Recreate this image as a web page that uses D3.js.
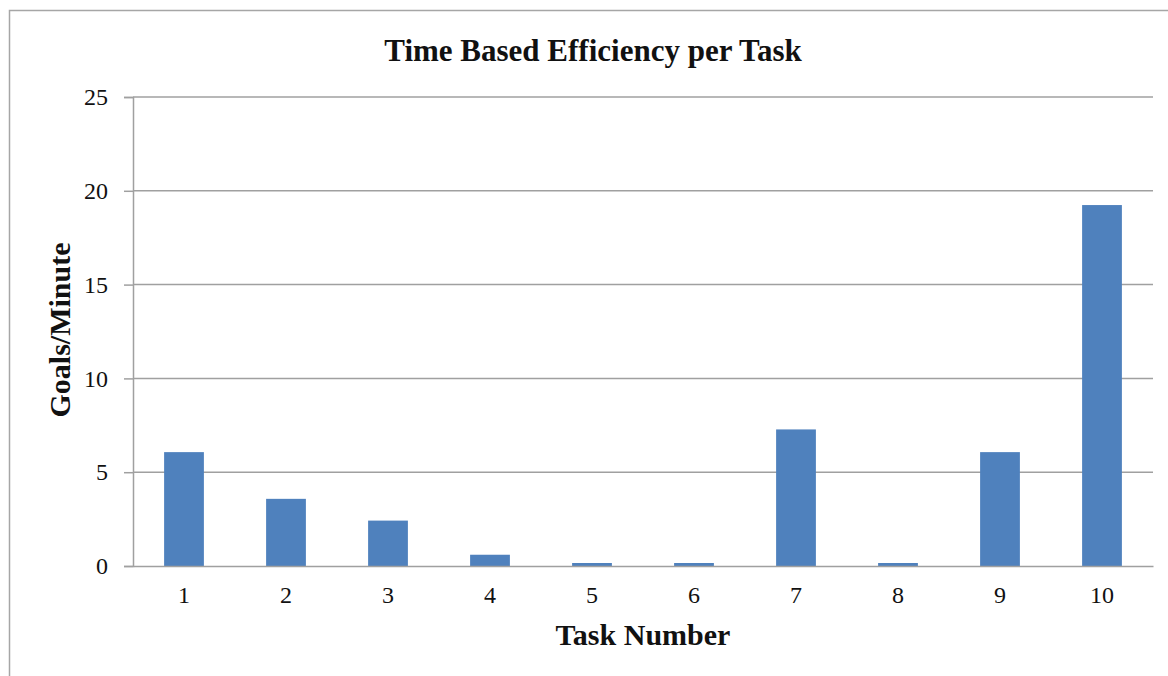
<!DOCTYPE html>
<html lang="en">
<head>
    <meta charset="UTF-8">
    <title>Time Based Efficiency per Task</title>
    <script src="https://d3js.org/d3.v7.min.js"></script>
    <style>
        body { margin: 0; background: #fff; }
        text { font-family: "Liberation Serif", "Times New Roman", serif; fill: #111; }
    </style>
</head>
<body>
    <svg></svg>
    <script>
        const tasks = ["1", "2", "3", "4", "5", "6", "7", "8", "9", "10"];
        const goalsPerMinute = [6.07, 3.58, 2.42, 0.6, 0.16, 0.16, 7.28, 0.16, 6.07, 19.24];
        const yTicks = [0, 5, 10, 15, 20, 25];

        const width = 1168;
        const height = 676;
        const margin = { top: 97, right: 15, bottom: 110, left: 133 };

        const svg = d3.select("svg")
            .attr("width", width)
            .attr("height", height);

        // outer frame (runs off the right and bottom edges)
        svg.append("rect")
            .attr("x", 9.5)
            .attr("y", 10.5)
            .attr("width", width + 20)
            .attr("height", height + 20)
            .attr("fill", "none")
            .attr("stroke", "#a6a6a6")
            .attr("stroke-width", 1.5);

        const x = d3.scaleBand()
            .domain(tasks)
            .range([margin.left, width - margin.right])
            .paddingInner(0.61)
            .paddingOuter(0.305);

        const y = d3.scaleLinear()
            .domain([0, 25])
            .range([height - margin.bottom, margin.top]);

        // gridlines + y axis
        const yAxis = svg.append("g")
            .attr("transform", `translate(${margin.left},0)`)
            .call(d3.axisLeft(y).tickValues(yTicks).tickSize(9).tickPadding(16))
            .call(g => g.select(".domain").attr("stroke", "#a0a0a0").attr("stroke-width", 1.5));
        yAxis.selectAll(".tick line").attr("stroke", "#a0a0a0").attr("stroke-width", 1.5);
        yAxis.selectAll(".tick text").style("font-size", "24px").attr("fill", "#222");

        svg.append("g")
            .selectAll("line")
            .data(yTicks.filter(d => d > 0))
            .enter()
            .append("line")
            .attr("x1", margin.left)
            .attr("x2", width - margin.right)
            .attr("y1", d => y(d))
            .attr("y2", d => y(d))
            .attr("stroke", "#a0a0a0")
            .attr("stroke-width", 1.5);

        svg.append("g")
            .selectAll("rect")
            .data(goalsPerMinute)
            .enter()
            .append("rect")
            .attr("x", (d, i) => x(tasks[i]))
            .attr("y", d => y(d))
            .attr("width", x.bandwidth())
            .attr("height", d => y(0) - y(d))
            .attr("fill", "#4f81bd");

        const xAxis = svg.append("g")
            .attr("transform", `translate(0,${y(0)})`)
            .call(d3.axisBottom(x).tickSize(0).tickPadding(20))
            .call(g => g.select(".domain").attr("stroke", "#a0a0a0").attr("stroke-width", 1.5));
        xAxis.selectAll(".tick text").style("font-size", "24px").attr("fill", "#222");

        svg.append("text")
            .attr("x", 593)
            .attr("y", 61)
            .attr("text-anchor", "middle")
            .style("font-size", "31px")
            .style("font-weight", "bold")
            .text("Time Based Efficiency per Task");

        svg.append("text")
            .attr("x", 643)
            .attr("y", 645)
            .attr("text-anchor", "middle")
            .style("font-size", "30px")
            .style("font-weight", "bold")
            .text("Task Number");

        svg.append("text")
            .attr("transform", `translate(70,330) rotate(-90)`)
            .attr("text-anchor", "middle")
            .style("font-size", "30px")
            .style("font-weight", "bold")
            .text("Goals/Minute");
    </script>
</body>
</html>
